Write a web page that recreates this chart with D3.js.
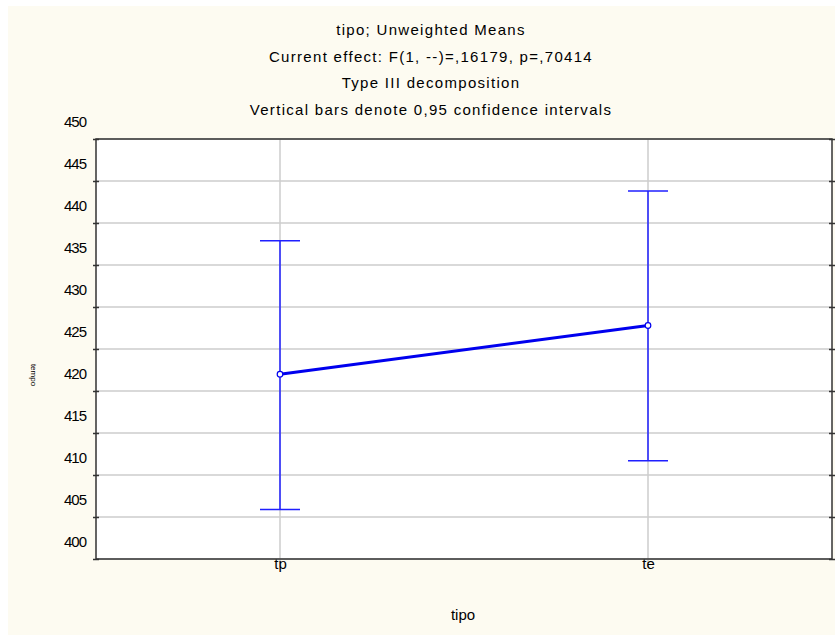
<!DOCTYPE html>
<html>
<head>
<meta charset="utf-8">
<script src="https://cdn.jsdelivr.net/npm/d3@7"></script>
<style>
  body { margin: 0; background: #ffffff; }
  text { font-family: "Liberation Sans", Arial, sans-serif; fill: #000; }
</style>
</head>
<body>
<div id="chart"></div>
<script>
// data
var categories = ["tp", "te"];
var means = [422.0, 427.8];
var lower = [405.9, 411.7];
var upper = [437.9, 443.8];
var yTicks = [400, 405, 410, 415, 420, 425, 430, 435, 440, 445, 450];
var titleLines = ["tipo; Unweighted Means",
    "Current effect: F(1, --)=,16179, p=,70414",
    "Type III decomposition",
    "Vertical bars denote 0,95 confidence intervals"];

var w = 835;
var h = 635;
var pLeft = 96, pRight = 832, pTop = 139, pBottom = 559;

var svg = d3.select("#chart")
    .append("svg")
    .attr("width", w)
    .attr("height", h);

// cream panel, thin white margin on the top and left
svg.append("rect")
    .attr("x", 8)
    .attr("y", 6)
    .attr("width", w - 8)
    .attr("height", h - 6)
    .attr("fill", "#fdfbf1");

var xScale = d3.scalePoint()
    .domain(categories)
    .range([pLeft, pRight])
    .padding(0.5);

var yScale = d3.scaleLinear()
    .domain([400, 450])
    .range([pBottom, pTop]);

// plot area
svg.append("rect")
    .attr("x", pLeft)
    .attr("y", pTop)
    .attr("width", pRight - pLeft)
    .attr("height", pBottom - pTop)
    .attr("fill", "#ffffff");

// grid
svg.append("g")
    .selectAll("line")
    .data(yTicks)
    .enter().append("line")
    .attr("x1", pLeft).attr("x2", pRight)
    .attr("y1", function (d) { return yScale(d); })
    .attr("y2", function (d) { return yScale(d); })
    .attr("stroke", "#cccccc")
    .attr("stroke-width", 1.5);

svg.append("g")
    .selectAll("line")
    .data(categories)
    .enter().append("line")
    .attr("x1", function (d) { return xScale(d); })
    .attr("x2", function (d) { return xScale(d); })
    .attr("y1", pTop).attr("y2", pBottom + 8)
    .attr("stroke", "#cccccc")
    .attr("stroke-width", 1.5);

// frame
svg.append("rect")
    .attr("x", pLeft)
    .attr("y", pTop)
    .attr("width", pRight - pLeft)
    .attr("height", pBottom - pTop)
    .attr("fill", "none")
    .attr("stroke", "#333")
    .attr("stroke-width", 1.5);

// left axis: ticks cross the line, labels sit above their tick
var yAxis = d3.axisLeft(yScale)
    .tickValues(yTicks)
    .tickSize(3)
    .tickPadding(12);

var gy = svg.append("g")
    .attr("transform", "translate(" + pLeft + ",0)")
    .call(yAxis);
gy.select(".domain").remove();
gy.selectAll(".tick line").attr("x2", 3).attr("x1", -3).attr("stroke", "#333").attr("stroke-width", 1.5);
gy.selectAll(".tick text")
    .attr("dy", "-0.85em")
    .attr("x", -10)
    .style("font-size", "15px")
    .style("letter-spacing", "-1px");

var gyr = svg.append("g")
    .attr("transform", "translate(" + pRight + ",0)")
    .call(d3.axisRight(yScale).tickValues(yTicks).tickSize(3).tickFormat(""));
gyr.select(".domain").remove();
gyr.selectAll(".tick line").attr("x1", -3).attr("x2", 3).attr("stroke", "#333").attr("stroke-width", 1.5);

// x axis labels
var gx = svg.append("g")
    .attr("transform", "translate(0," + pBottom + ")")
    .call(d3.axisBottom(xScale).tickSize(0).tickPadding(1));
gx.select(".domain").remove();
gx.selectAll(".tick text")
    .attr("dy", "0.6em")
    .style("font-size", "15px");

// error bars
var bars = svg.append("g");
categories.forEach(function (c, i) {
    var x = xScale(c);
    bars.append("line")
        .attr("x1", x).attr("x2", x)
        .attr("y1", yScale(lower[i])).attr("y2", yScale(upper[i]))
        .attr("stroke", "#1f1fff").attr("stroke-width", 1.5);
    [lower[i], upper[i]].forEach(function (v) {
        bars.append("line")
            .attr("x1", x - 20).attr("x2", x + 20)
            .attr("y1", yScale(v)).attr("y2", yScale(v))
            .attr("stroke", "#1f1fff").attr("stroke-width", 1.5);
    });
});

// means line
var line = d3.line()
    .x(function (d, i) { return xScale(categories[i]); })
    .y(function (d) { return yScale(d); });

svg.append("path")
    .datum(means)
    .attr("d", line)
    .attr("fill", "none")
    .attr("stroke", "#0000ee")
    .attr("stroke-width", 3);

svg.append("g")
    .selectAll("circle")
    .data(means)
    .enter().append("circle")
    .attr("cx", function (d, i) { return xScale(categories[i]); })
    .attr("cy", function (d) { return yScale(d); })
    .attr("r", 2.8)
    .attr("fill", "#fff")
    .attr("stroke", "#0000ee")
    .attr("stroke-width", 1.2);

// titles (wide, bitmap-like spacing)
svg.append("g")
    .selectAll("text")
    .data(titleLines)
    .enter().append("text")
    .attr("x", 431)
    .attr("y", function (d, i) { return 35 + i * 26.7; })
    .attr("text-anchor", "middle")
    .style("font-size", "15px")
    .style("letter-spacing", "1.3px")
    .text(function (d) { return d; });

// axis titles
svg.append("text")
    .attr("x", 463)
    .attr("y", 620)
    .attr("text-anchor", "middle")
    .style("font-size", "15px")
    .text("tipo");

svg.append("text")
    .attr("transform", "translate(31,375) rotate(90)")
    .attr("text-anchor", "middle")
    .style("font-size", "8px")
    .text("tempo");
</script>
</body>
</html>
